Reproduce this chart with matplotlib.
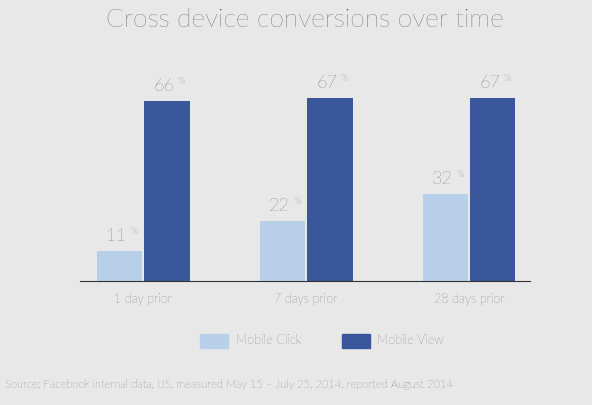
import matplotlib
matplotlib.use("Agg")
import matplotlib.pyplot as plt
from matplotlib.patches import Rectangle

plt.rcParams['font.family'] = ['Lato', 'DejaVu Sans']
plt.rcParams['font.weight'] = 'light'

categories = ["1 day prior", "7 days prior", "28 days prior"]
mobile_click = [11, 22, 32]
mobile_view = [66, 67, 67]

BG = "#e8e8e8"
LIGHT = "#b8cfea"
DARK = "#39579a"
TXT = "#333333"

fig = plt.figure(figsize=(5.92, 4.05), dpi=100, facecolor=BG)
ax = fig.add_axes([80/592, 1-281/405, 450/592, 218/405])
ax.set_facecolor(BG)
w = 0.28
xs = list(range(len(categories)))
ax.bar([x - w/2 - 0.005 for x in xs], mobile_click, width=w, color=LIGHT)
ax.bar([x + w/2 + 0.005 for x in xs], mobile_view, width=w, color=DARK)
ax.set_xlim(-0.387, 2.374)
ax.set_ylim(0, 80)
for s in ["top", "right", "left"]:
    ax.spines[s].set_visible(False)
ax.spines["bottom"].set_color(TXT)
ax.set_yticks([])
ax.set_xticks(xs)
ax.set_xticklabels(categories, fontsize=9, color=TXT)
ax.tick_params(axis='x', length=0, pad=9)

def lab(x, v):
    t = str(v)
    ax.annotate(t, (x, v), xytext=(-2, 5), textcoords="offset points",
                ha="center", va="bottom", fontsize=13, color=TXT)
    off = 4.0 * len(t) + 2.5
    ax.annotate("%", (x, v), xytext=(off, 11), textcoords="offset points",
                ha="center", va="bottom", fontsize=7, color=TXT)

for x, a, b in zip(xs, mobile_click, mobile_view):
    lab(x - w/2 - 0.005, a)
    lab(x + w/2 + 0.005, b)

fig.text(0.515, 1-20/405, "Cross device conversions over time", ha="center", va="center",
         fontsize=19, color=TXT)
fig.patches.append(Rectangle((200/592, 1-348/405), 28/592, 14/405, color=LIGHT, transform=fig.transFigure))
fig.text(236/592, 1-341/405, "Mobile Click", va="center", fontsize=9, color=TXT)
fig.patches.append(Rectangle((342/592, 1-348/405), 28/592, 14/405, color=DARK, transform=fig.transFigure))
fig.text(377/592, 1-341/405, "Mobile View", va="center", fontsize=9, color=TXT)
fig.text(5/592, 1-384/405, "Source: Facebook internal data, US, measured May 15 \u2013 July 25, 2014, reported August 2014",
         va="center", fontsize=8, color=TXT)
fig.savefig("out.png", dpi=100, facecolor=BG)
